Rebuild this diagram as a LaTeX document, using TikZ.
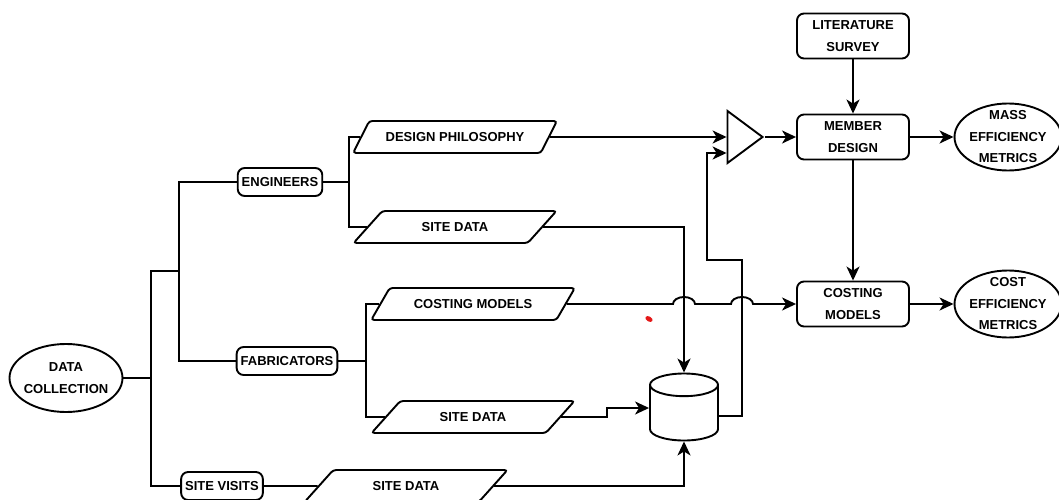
\documentclass[tikz,border=0pt]{standalone}
\usepackage{fontspec}
\setmainfont{Liberation Sans}
\definecolor{InkBlack}{RGB}{0,0,0}
\definecolor{StrayRed}{RGB}{228,24,24}
\usetikzlibrary{shapes.geometric,arrows.meta,positioning,calc}
\tikzset{
  labelfont/.style={font=\fontsize{13}{21.5}\selectfont\bfseries},
  flow/.style={draw=InkBlack, line width=1.9pt},
  arr/.style={flow, -{Stealth[length=14pt,width=13pt,inset=4pt]}},
  box/.style={draw=InkBlack, line width=1.9pt, rounded corners=7pt, fill=white,
              align=center, labelfont, inner xsep=4pt, minimum height=28pt},
  bigbox/.style={box, minimum width=112pt, minimum height=45pt},
  datapar/.style={trapezium, trapezium left angle=35, trapezium right angle=145,
              trapezium stretches=true, draw=InkBlack, line width=1.9pt,
              rounded corners=3pt, fill=white, labelfont, inner sep=0pt,
              minimum width=204pt, minimum height=32pt},
  oval/.style={ellipse, draw=InkBlack, line width=1.9pt, fill=white, inner sep=0pt},
  ovaltext/.style={align=center, labelfont, inner sep=0pt}
}
\begin{document}
\begin{tikzpicture}[x=1pt, y=-1pt]
  \useasboundingbox (0,0) rectangle (1059,500);

  % sources
  \node[oval, minimum width=113pt, minimum height=68pt] (dc) at (66,378) {};
  \node[ovaltext] (dc-t) at (dc.center) {DATA\\COLLECTION};
  \node[box] (eng) at (280,182) {ENGINEERS};
  \node[box] (fab) at (287,361) {FABRICATORS};
  \node[box] (site) at (222,486) {SITE VISITS};

  % data items
  \node[datapar] (dphil) at (455,137) {DESIGN PHILOSOPHY};
  \node[datapar] (sd1) at (455,227) {SITE DATA};
  \node[datapar] (cmp) at (473,304) {COSTING MODELS};
  \node[datapar] (sd2) at (473,417) {SITE DATA};
  \node[datapar] (sd3) at (406,486) {SITE DATA};

  \node[cylinder, shape border rotate=90, aspect=3.4, draw=InkBlack, line width=1.9pt,
        fill=white, minimum width=68pt, minimum height=67pt, anchor=shape center] (cyl) at (684,407) {};
  \node[isosceles triangle, shape border rotate=0, isosceles triangle stretches,
        draw=InkBlack, line width=1.9pt, fill=white, inner sep=0pt,
        minimum width=52pt, minimum height=35pt, anchor=apex] (tri) at (765,137) {};

  % design and costing
  \node[bigbox] (lit) at (853,36) {LITERATURE\\SURVEY};
  \node[bigbox] (mem) at (853,137) {MEMBER\\DESIGN};
  \node[bigbox] (cost) at (853,304) {COSTING\\MODELS};
  \node[oval, minimum width=107pt, minimum height=67pt] (mass) at (1008,137) {};
  \node[ovaltext] (mass-t) at (mass.center) {MASS\\EFFICIENCY\\METRICS};
  \node[oval, minimum width=107pt, minimum height=67pt] (ceff) at (1008,304) {};
  \node[ovaltext] (ceff-t) at (ceff.center) {COST\\EFFICIENCY\\METRICS};

  % tree
  \coordinate (f1) at (151,271);
  \coordinate (f2) at (179,271);
  \coordinate (f3) at (349,182);
  \coordinate (f4) at (366,361);
  \draw[flow] (dc.east) -- (dc.east -| f1);
  \draw[flow] (eng.west) -| (f2) |- (fab.west);
  \draw[flow] (f2) -- (f1) |- (site.west);
  \draw[flow] (dphil.west) -| (f3) |- (sd1.west);
  \draw[flow] (eng.east) -- (f3);
  \draw[flow] (cmp.west) -| (f4) |- (sd2.west);
  \draw[flow] (fab.east) -- (f4);
  \draw[flow] (site.east) -- (sd3.west);

  % into the store
  \coordinate (kink) at (607,408);
  \draw[arr] (sd1.east) -| (cyl.north);
  \draw[arr] (sd2.east) -| (kink) -- (kink -| cyl.west);
  \draw[arr] (sd3.east) -| (cyl.south);

  % into the triangle
  \coordinate (ret1) at (742,260);
  \coordinate (ret2) at (707,153);
  \draw[arr] (dphil.east) -- (dphil.east -| tri.west);
  \draw[arr] (cyl.east) -| (ret1) -| (ret2) -- (ret2 -| tri.west);

  % costing line with hops
  \coordinate (hop1) at (673,0);
  \coordinate (hop2) at (731,0);
  \draw[arr] (cmp.east) -- (cmp.east -| hop1)
    arc[start angle=180, end angle=0, x radius=11, y radius=-7]
    -- (cmp.east -| hop2)
    arc[start angle=180, end angle=0, x radius=11, y radius=-7]
    -- (cost.west);

  \draw[arr] (tri.apex) -- (mem.west);
  \draw[arr] (lit.south) -- (mem.north);
  \draw[arr] (mem.south) -- (cost.north);
  \draw[arr] (mem.east) -- (mass.west);
  \draw[arr] (cost.east) -- (ceff.west);

  \fill[StrayRed, rotate around={-30:(649,319)}] (649,319) ellipse[x radius=4, y radius=2.5];
\end{tikzpicture}
\end{document}
